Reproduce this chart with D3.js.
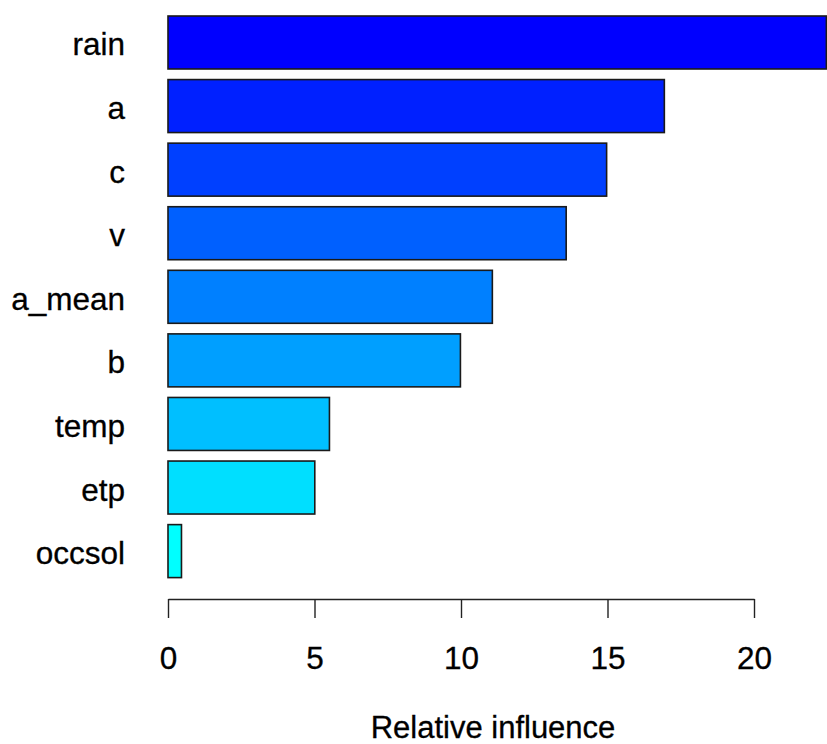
<!DOCTYPE html>
<html>
<head>
<meta charset="utf-8">
<script src="https://cdn.jsdelivr.net/npm/d3@7"></script>
<style>
  html, body { margin: 0; padding: 0; background: #fff; }
  svg { display: block; }
  text { font-family: "Liberation Sans", Arial, sans-serif; fill: #000; }
</style>
</head>
<body>
<script>
const categories = ["rain", "a", "c", "v", "a_mean", "b", "temp", "etp", "occsol"];
const values = [22.47, 16.94, 14.97, 13.59, 11.07, 9.98, 5.51, 5.01, 0.46];
const colors = ["#0000FF", "#0020FF", "#0040FF", "#0060FF", "#0080FF", "#009FFF", "#00BFFF", "#00DFFF", "#00FFFF"];
const tickValues = [0, 5, 10, 15, 20];
const xTitle = "Relative influence";

const W = 827, H = 744;
const svg = d3.select("body").append("svg").attr("width", W).attr("height", H);

const x = d3.scaleLinear().domain([0, 20]).range([168, 754]);
const y = d3.scaleBand().domain(categories).range([16, 577.6]).paddingInner(1/6).paddingOuter(0);

const data = categories.map((c, i) => ({ c, v: values[i], col: colors[i] }));

svg.append("g").selectAll("rect").data(data).join("rect")
  .attr("x", x(0))
  .attr("y", d => y(d.c))
  .attr("width", d => x(d.v) - x(0))
  .attr("height", y.bandwidth())
  .attr("fill", d => d.col)
  .attr("stroke", "#1a1a1a")
  .attr("stroke-width", 1.6);

svg.append("g").selectAll("text").data(data).join("text")
  .attr("x", 125)
  .attr("y", d => y(d.c) + y.bandwidth() / 2 + 13)
  .attr("text-anchor", "end")
  .attr("font-size", 31.5)
  .attr("stroke", "#000").attr("stroke-width", 0.3)
  .text(d => d.c);

const axis = svg.append("g").attr("transform", "translate(0,599)")
  .call(d3.axisBottom(x).tickValues(tickValues).tickSize(19).tickSizeOuter(0).tickFormat(d3.format("d")));
axis.selectAll("path, line").attr("stroke", "#222").attr("stroke-width", 1.4);
axis.selectAll("text")
  .attr("font-size", 31.5)
  .attr("font-family", "Liberation Sans, Arial, sans-serif")
  .attr("fill", "#000")
  .attr("stroke", "#000").attr("stroke-width", 0.3)
  .attr("dy", null)
  .attr("y", 70);

svg.append("text")
  .attr("x", (x(0) + x(20)) / 2 + 32)
  .attr("y", 738)
  .attr("text-anchor", "middle")
  .attr("font-size", 31)
  .attr("stroke", "#000").attr("stroke-width", 0.3)
  .text(xTitle);
</script>
</body>
</html>
